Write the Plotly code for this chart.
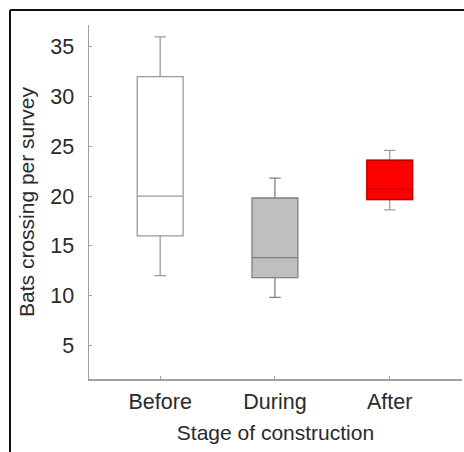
import plotly.graph_objects as go

categories = ["Before", "During", "After"]
lower_whisker = [12, 9.8, 18.6]
q1_values = [16, 11.8, 19.65]
median_values = [20, 13.8, 20.7]
q3_values = [32, 19.8, 23.6]
upper_whisker = [36, 21.8, 24.6]

fill_colors = ["#ffffff", "#bfbfbf", "#ff0000"]
line_colors = ["#9a9a9a", "#808080", "#a0a0a0"]

fig = go.Figure()
for i, cat in enumerate(categories):
    fig.add_trace(go.Box(
        x=[cat], q1=[q1_values[i]], median=[median_values[i]], q3=[q3_values[i]],
        lowerfence=[lower_whisker[i]], upperfence=[upper_whisker[i]],
        fillcolor=fill_colors[i], line=dict(color=line_colors[i], width=1.3),
        width=0.4, whiskerwidth=0.25, boxpoints=False, showlegend=False,
        hoverinfo="skip",
    ))

# red outline for the "After" box drawn on top (whiskers stay grey)
fig.add_trace(go.Box(
    x=[categories[2]], q1=[q1_values[2]], median=[median_values[2]], q3=[q3_values[2]],
    lowerfence=[q1_values[2]], upperfence=[q3_values[2]],
    fillcolor=fill_colors[2], line=dict(color="#c40000", width=1.3),
    width=0.4, whiskerwidth=0, boxpoints=False, showlegend=False, hoverinfo="skip",
))

W, H = 464, 452
ml, mr, mt, mb = 89, 2, 25, 73
pw, ph = W - ml - mr, H - mt - mb

fig.update_layout(
    width=W, height=H,
    margin=dict(l=ml, r=mr, t=mt, b=mb, pad=0),
    paper_bgcolor="white", plot_bgcolor="white",
    font=dict(family="Liberation Sans, Arial, sans-serif", color="#2a2a2a"),
    showlegend=False,
)
fig.update_xaxes(
    type="category", categoryorder="array", categoryarray=categories,
    range=[-0.62, 2.63],
    showline=True, linecolor="#a0a0a0", linewidth=1.5,
    ticks="inside", ticklen=3, tickcolor="#a0a0a0",
    showgrid=False, zeroline=False,
    tickfont=dict(size=21.5), ticklabelstandoff=3,
    title=dict(text="Stage of construction", font=dict(size=21), standoff=12),
)
fig.update_yaxes(
    range=[1.6, 37.2],
    tickvals=[5, 10, 15, 20, 25, 30, 35],
    showline=True, linecolor="#a0a0a0", linewidth=1.5,
    ticks="inside", ticklen=3, tickcolor="#a0a0a0",
    showgrid=False, zeroline=False,
    tickfont=dict(size=21.5), ticklabelstandoff=9,
    title=dict(text="Bats crossing per survey", font=dict(size=21), standoff=10),
)

# outer black frame (left and top edges visible in the reference)
fx0 = (10 - ml) / pw
fy_top = 1 + (mt - 10) / ph
fy_bot = 1 - (H + 10 - mt) / ph
fx1 = 1 + (W + 10 - ml - pw) / pw
fig.add_shape(type="line", xref="paper", yref="paper", x0=fx0, x1=fx0, y0=fy_bot, y1=fy_top,
              line=dict(color="#111111", width=2))
fig.add_shape(type="line", xref="paper", yref="paper", x0=fx0, x1=fx1, y0=fy_top, y1=fy_top,
              line=dict(color="#111111", width=2))

fig.write_html(
    "out.html",
    config={"displayModeBar": False, "staticPlot": True},
    post_script="document.body.style.margin='0';document.body.style.overflow='hidden';",
)
